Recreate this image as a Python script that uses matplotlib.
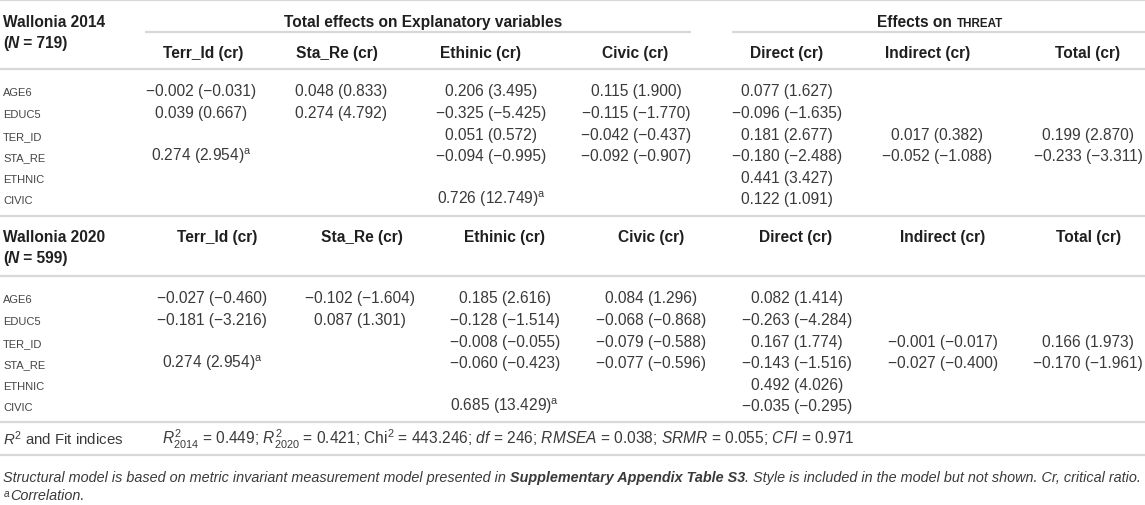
import numpy as np
import matplotlib
matplotlib.use("Agg")
import matplotlib.pyplot as plt

plt.rcParams["font.family"] = ["Liberation Sans", "DejaVu Sans"]
plt.rcParams["mathtext.fontset"] = "custom"
plt.rcParams["mathtext.rm"] = "Liberation Sans"
plt.rcParams["mathtext.it"] = "Liberation Sans:italic"
plt.rcParams["mathtext.bf"] = "Liberation Sans:bold"

# table content
row_labels = ["AGE6", "EDUC5", "TER_ID", "STA_RE", "ETHNIC", "CIVIC"]
col_headers = ["Terr_Id (cr)", "Sta_Re (cr)", "Ethinic (cr)", "Civic (cr)",
               "Direct (cr)", "Indirect (cr)", "Total (cr)"]

N = None
coef_2014 = [[-0.002, 0.048, 0.206, 0.115, 0.077, N, N],
             [0.039, 0.274, -0.325, -0.115, -0.096, N, N],
             [N, N, 0.051, -0.042, 0.181, 0.017, 0.199],
             [0.274, N, -0.094, -0.092, -0.180, -0.052, -0.233],
             [N, N, N, N, 0.441, N, N],
             [N, N, 0.726, N, 0.122, N, N]]
cr_2014 = [[-0.031, 0.833, 3.495, 1.900, 1.627, N, N],
           [0.667, 4.792, -5.425, -1.770, -1.635, N, N],
           [N, N, 0.572, -0.437, 2.677, 0.382, 2.870],
           [2.954, N, -0.995, -0.907, -2.488, -1.088, -3.311],
           [N, N, N, N, 3.427, N, N],
           [N, N, 12.749, N, 1.091, N, N]]
coef_2020 = [[-0.027, -0.102, 0.185, 0.084, 0.082, N, N],
             [-0.181, 0.087, -0.128, -0.068, -0.263, N, N],
             [N, N, -0.008, -0.079, 0.167, -0.001, 0.166],
             [0.274, N, -0.060, -0.077, -0.143, -0.027, -0.170],
             [N, N, N, N, 0.492, N, N],
             [N, N, 0.685, N, -0.035, N, N]]
cr_2020 = [[-0.460, -1.604, 2.616, 1.296, 1.414, N, N],
           [-3.216, 1.301, -1.514, -0.868, -4.284, N, N],
           [N, N, -0.055, -0.588, 1.774, -0.017, 1.973],
           [2.954, N, -0.423, -0.596, -1.516, -0.400, -1.961],
           [N, N, N, N, 4.026, N, N],
           [N, N, 13.429, N, -0.295, N, N]]
# cells marked as correlations (row, col)
corr_cells = [(3, 0), (5, 2)]

fit_text = (r"$R^2_{2014}$ = 0.449; $R^2_{2020}$ = 0.421; Chi$^2$ = 443.246; "
            r"$df$ = 246; $RMSEA$ = 0.038; $SRMR$ = 0.055; $CFI$ = 0.971")

W, H = 1145, 506
fig = plt.figure(figsize=(W / 100, H / 100), dpi=100)
ax = fig.add_axes([0, 0, 1, 1])
ax.set_xlim(0, W)
ax.set_ylim(H, 0)
ax.axis("off")
renderer = fig.canvas.get_renderer()

DARK = "#1f1f1f"
TXT = "#3a3a3a"
LINE = "#d8d8d8"
FS = 11.2


def width(s, **kw):
    # measure with bars around so spaces count
    t1 = ax.text(0, 0, "|" + s + "|", **kw)
    t2 = ax.text(0, 0, "||", **kw)
    w = t1.get_window_extent(renderer).width - t2.get_window_extent(renderer).width
    t1.remove()
    t2.remove()
    return w


def runs(x, y, parts, ha="left", color=DARK):
    widths = [width(s, **kw) for s, kw in parts]
    if ha == "center":
        x -= sum(widths) / 2
    for (s, kw), w in zip(parts, widths):
        ax.text(x, y, s, va="baseline", ha="left", color=color, **kw)
        x += w


def hline(y, x0=0, x1=W):
    ax.plot([x0, x1], [y, y], color=LINE, lw=1.6, solid_capstyle="butt")


def fmt(v):
    return f"{v:.3f}".replace("-", "\u2212")


def draw_block(coef, cr, y_rows, xs):
    for i, lab in enumerate(row_labels):
        ax.text(3, y_rows[i], lab, fontsize=8, color="#444444", va="baseline")
        for j in range(len(col_headers)):
            if coef[i][j] is None:
                continue
            s = f"{fmt(coef[i][j])} ({fmt(cr[i][j])})"
            if (i, j) in corr_cells:
                s += r"$^{\mathrm{a}}$"
            ax.text(xs[j], y_rows[i], s, fontsize=FS, color=TXT,
                    ha="center", va="baseline")


bold = dict(fontsize=FS, fontweight="bold")
bold_it = dict(fontsize=FS, fontweight="bold", style="italic")

# lines
for y in [1, 70, 217, 277, 423, 456]:
    hline(y)
hline(33, 145, 691)
hline(33, 732, W)

# 2014 header
runs(3, 27, [("Wallonia 2014", bold)])
runs(3, 48, [("(", bold), ("N", bold_it), (" = 719)", bold)])
runs(423, 27, [("Total effects on Explanatory variables", bold)], ha="center")
runs(940, 27, [("Effects on ", bold),
               ("THREAT", dict(fontsize=8.4, fontweight="bold"))], ha="center")
hx_2014 = [203, 337, 481, 635, 787, 928, 1088]
for x, h in zip(hx_2014, col_headers):
    ax.text(x, 58, h, ha="center", va="baseline", color=DARK, **bold)

rows_2014 = [96, 118, 140, 161, 183, 204]
dx_2014 = [201, 341, 491, 636, 787, 937, 1088]
draw_block(coef_2014, cr_2014, rows_2014, dx_2014)

# 2020 header
runs(3, 242, [("Wallonia 2020", bold)])
runs(3, 263, [("(", bold), ("N", bold_it), (" = 599)", bold)])
hx_2020 = [217, 362, 505, 651, 796, 943, 1089]
for x, h in zip(hx_2020, col_headers):
    ax.text(x, 242, h, ha="center", va="baseline", color=DARK, **bold)

rows_2020 = [303, 325, 347, 368, 390, 411]
dx_2020 = [212, 360, 505, 651, 797, 943, 1088]
draw_block(coef_2020, cr_2020, rows_2020, dx_2020)

# fit indices
ax.text(3, 445, r"$R^2$ and Fit indices", fontsize=FS - 0.4, color=TXT, va="baseline")
ax.text(162, 445, fit_text, fontsize=FS, color=TXT, va="baseline")

# footnote
it = dict(fontsize=10.4, style="italic")
bit = dict(fontsize=10.4, style="italic", fontweight="bold")
runs(3, 482, [("Structural model is based on metric invariant measurement model presented in ", it),
              ("Supplementary Appendix Table S3", bit),
              (". Style is included in the model but not shown. Cr, critical ratio.", it)],
     color=TXT)
runs(3, 500, [(r"$^{\mathit{a}}$", it), ("Correlation.", it)], color=TXT)

fig.savefig("out.png", dpi=100, facecolor="white")
